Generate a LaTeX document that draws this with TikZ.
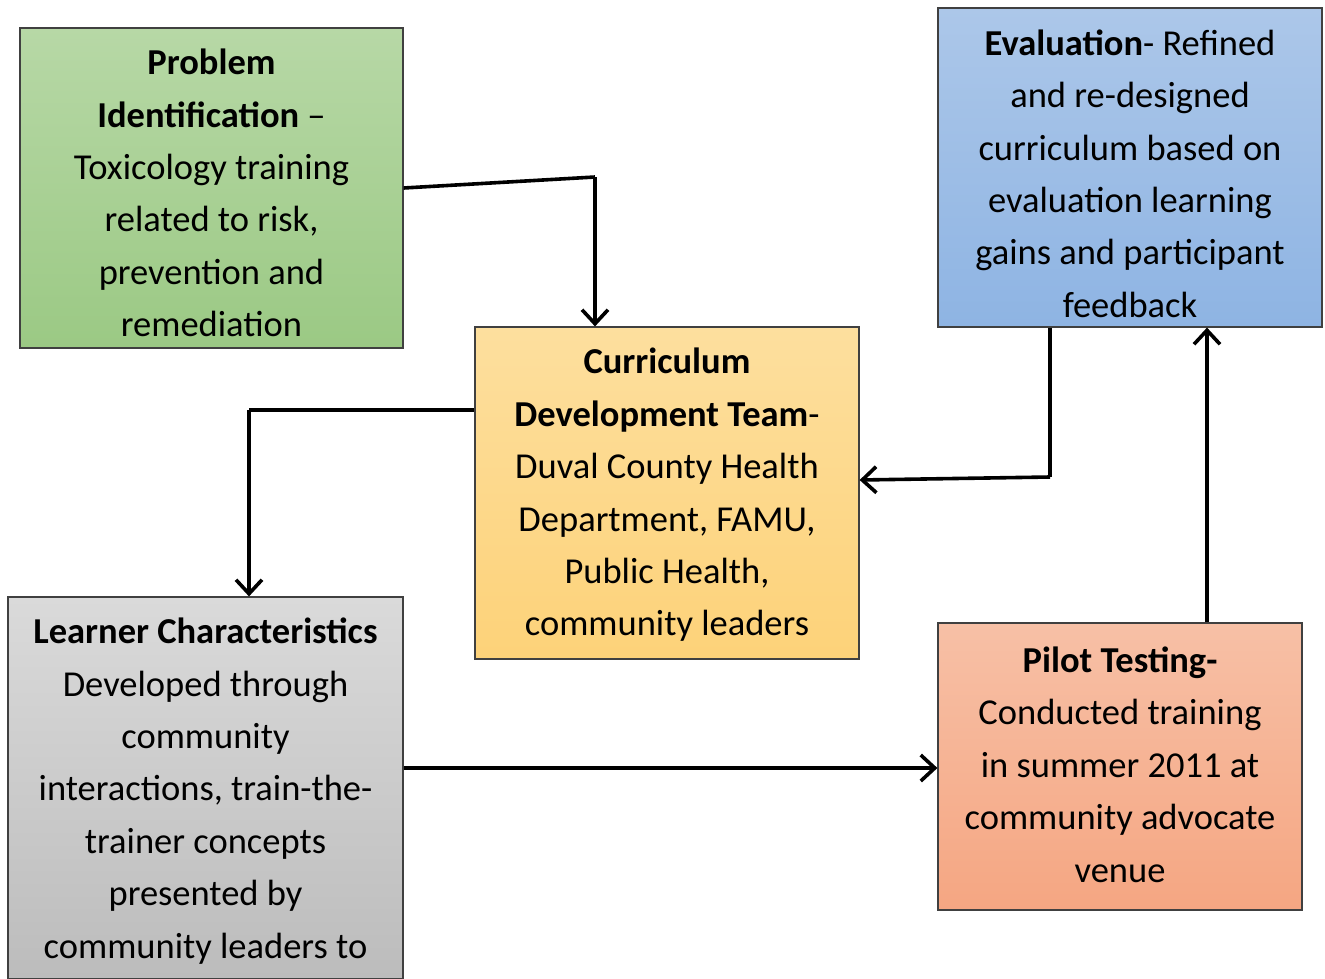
\documentclass[tikz,border=0pt]{standalone}
\usepackage{fontspec}
\setmainfont{Carlito}
\usetikzlibrary{arrows.meta}
\definecolor{gTop}{RGB}{183,216,166}
\definecolor{gBot}{RGB}{155,201,132}
\definecolor{bTop}{RGB}{172,199,233}
\definecolor{bBot}{RGB}{142,180,227}
\definecolor{oTop}{RGB}{253,223,158}
\definecolor{oBot}{RGB}{253,210,121}
\definecolor{sTop}{RGB}{247,192,166}
\definecolor{sBot}{RGB}{245,166,130}
\definecolor{kTop}{RGB}{218,218,218}
\definecolor{kBot}{RGB}{188,188,188}
\tikzset{
  box/.style={draw=black!75, line width=1.2pt, rectangle, inner sep=0pt},
  txt/.style={align=center, inner sep=0pt, font=\fontsize{36.5}{52.4}\selectfont},
  conn/.style={line width=3.6pt, -{Straight Barb[length=14pt,width=26pt,line width=3.6pt]}},
  plain/.style={line width=3.6pt}
}
\begin{document}
\begin{tikzpicture}[x=1pt,y=-1pt]
\useasboundingbox (0,0) rectangle (1325,978);
\clip (0,0) rectangle (1325,978);
\fill[white] (0,0) rectangle (1325,978);

\node[box, top color=gTop, bottom color=gBot, minimum width=383pt, minimum height=320pt] (prob) at (211.5,188) {};
\node[txt, yshift=-5pt] (probT) at (prob.center)
  {\textbf{Problem}\\ \textbf{Identification} –\\ Toxicology training\\ related to risk,\\ prevention and\\ remediation};

\node[box, top color=bTop, bottom color=bBot, minimum width=384pt, minimum height=319pt] (eval) at (1130,167.5) {};
\node[txt, yshift=-6pt] (evalT) at (eval.center)
  {\textbf{Evaluation}- Refined\\ and re-designed\\ curriculum based on\\ evaluation learning\\ gains and participant\\ feedback};

\node[box, top color=oTop, bottom color=oBot, minimum width=384pt, minimum height=332pt] (curr) at (667,493) {};
\node[txt, yshift=-2pt] (currT) at (curr.center)
  {\textbf{Curriculum}\\ \textbf{Development Team}-\\ Duval County Health\\ Department, FAMU,\\ Public Health,\\ community leaders};

\node[box, top color=kTop, bottom color=kBot, minimum width=395pt, minimum height=382pt] (learn) at (205.5,788) {};
\node[txt, yshift=-3pt] (learnT) at (learn.center)
  {\textbf{Learner Characteristics}\\ Developed through\\ community\\ interactions, train-the-\\ trainer concepts\\ presented by\\ community leaders to};

\node[box, top color=sTop, bottom color=sBot, minimum width=364pt, minimum height=287pt] (pilot) at (1120,766.5) {};
\node[txt, yshift=2pt] (pilotT) at (pilot.center)
  {\textbf{Pilot Testing-}\\ Conducted training\\ in summer 2011 at\\ community advocate\\ venue};

\coordinate (c1) at (595,177);
\coordinate (c2) at (249,410);
\coordinate (c3) at (0,768);
\coordinate (c4) at (1207,0);
\coordinate (c5) at (1050,477);
\coordinate (c6) at (0,480);

\draw[plain] (prob.east) -- (c1);
\draw[conn] (c1) -- (c1 |- curr.north);
\draw[plain] (curr.west |- c2) -- (c2);
\draw[conn] (c2) -- (c2 |- learn.north);
\draw[conn] (learn.east |- c3) -- (pilot.west |- c3);
\draw[conn] (pilot.north -| c4) -- (eval.south -| c4);
\draw[plain] (eval.south -| c5) -- (c5);
\draw[conn] (c5) -- (curr.east |- c6);
\end{tikzpicture}
\end{document}
